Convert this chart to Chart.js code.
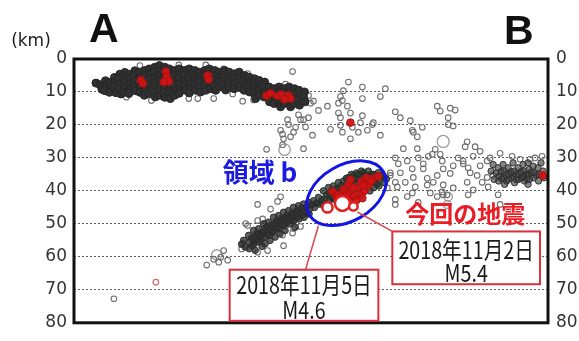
<!DOCTYPE html>
<html>
<head>
<meta charset="utf-8">
<script src="https://cdn.jsdelivr.net/npm/chart.js@4/dist/chart.umd.min.js"></script>
<style>
  html, body { margin: 0; padding: 0; background: #fff; overflow: hidden; }
  canvas { display: block; }
</style>
</head>
<body>
<canvas id="c" width="579" height="341"></canvas>
<script>
// Hypocentre cross-section A–B: horizontal distance (km) vs depth (km)

const depthTicks = [0, 10, 20, 30, 40, 50, 60, 70, 80];

// Shallow crustal swarm (very dense)
const shallowCluster = [
  [4.4,7.3],
  [5.2,7.8],[5.6,9.2],
  [6.3,6.6],[6.5,8.1],[6.2,9.6],
  [7.2,7.1],[7.4,8.7],[7.1,10.1],
  [8.1,5.6],[8.3,7.2],[8.0,8.6],[8.4,10.2],
  [9.2,4.6],[9.0,6.1],[9.3,7.6],[9.1,9.1],[9.4,10.6],
  [10.2,4.1],[10.4,5.6],[10.1,7.0],[10.3,8.6],[10.0,10.1],
  [11.1,4.6],[11.3,6.1],[11.2,7.6],[11.4,9.0],[11.0,10.5],
  [12.2,3.6],[12.0,5.1],[12.4,6.6],[12.1,8.1],[12.3,9.6],
  [13.1,4.1],[13.3,5.6],[13.0,7.1],[13.4,8.6],[13.2,10.1],
  [14.2,3.5],[14.0,5.0],[14.3,6.5],[14.1,8.0],[14.4,9.5],[14.1,11.0],
  [15.1,3.0],[15.3,4.5],[15.0,6.0],[15.2,7.5],[15.4,9.0],[15.1,10.5],
  [16.2,2.5],[16.0,4.0],[16.3,5.5],[16.1,7.0],[16.4,8.5],[16.0,10.0],[16.3,11.5],
  [17.1,2.0],[17.3,3.5],[17.0,5.0],[17.2,6.5],[17.4,8.0],[17.1,9.5],[17.3,11.0],
  [18.2,2.5],[18.0,4.0],[18.3,5.5],[18.1,7.0],[18.4,8.5],[18.0,10.0],[18.2,11.6],
  [19.1,3.0],[19.3,4.5],[19.0,6.0],[19.2,7.5],[19.4,9.0],[19.1,10.5],[19.3,12.0],
  [20.2,3.5],[20.0,5.0],[20.3,6.5],[20.1,8.0],[20.4,9.5],[20.2,11.0],
  [21.1,3.0],[21.3,4.5],[21.0,6.0],[21.2,7.5],[21.4,9.0],[21.1,10.4],
  [22.2,3.5],[22.0,5.0],[22.3,6.5],[22.1,8.0],[22.4,9.5],
  [23.1,3.0],[23.3,4.5],[23.0,6.0],[23.2,7.5],[23.4,9.0],[23.1,10.3],
  [24.2,3.5],[24.0,5.0],[24.3,6.5],[24.1,8.0],[24.4,9.5],
  [25.1,4.0],[25.3,5.5],[25.0,7.0],[25.2,8.5],[25.4,10.0],
  [26.2,3.5],[26.0,5.0],[26.3,6.5],[26.1,8.0],[26.4,9.5],
  [27.1,3.0],[27.3,4.5],[27.0,6.0],[27.2,7.5],[27.4,9.0],
  [28.2,3.5],[28.0,5.0],[28.3,6.5],[28.1,8.0],[28.4,9.5],
  [29.1,4.0],[29.3,5.5],[29.0,7.0],[29.2,8.5],
  [30.2,3.5],[30.0,5.0],[30.3,6.5],[30.1,8.0],[30.4,9.4],
  [31.1,4.0],[31.3,5.5],[31.0,7.0],[31.2,8.5],
  [32.2,4.5],[32.0,6.0],[32.3,7.5],[32.1,9.0],
  [33.1,4.0],[33.3,5.5],[33.0,7.0],[33.2,8.5],
  [34.2,5.0],[34.0,6.5],[34.3,8.0],[34.1,9.5],
  [35.1,5.5],[35.3,7.0],[35.0,8.5],[35.2,10.0],
  [36.2,6.0],[36.0,7.5],[36.3,9.0],[36.1,10.5],[36.4,12.0],
  [37.1,6.5],[37.3,8.0],[37.0,9.5],[37.2,11.0],
  [38.2,7.0],[38.0,8.5],[38.3,10.0],[38.1,11.5],
  [39.1,8.5],[39.3,10.0],[39.0,11.5],[39.2,13.0],
  [40.2,9.0],[40.0,10.5],[40.3,12.0],[40.1,13.5],
  [41.1,8.5],[41.3,10.0],[41.0,11.5],[41.2,13.0],[41.4,14.5],
  [42.2,9.0],[42.0,10.5],[42.3,12.0],[42.1,13.5],
  [43.1,8.5],[43.3,10.0],[43.0,11.5],[43.2,13.0],[43.4,14.5],
  [44.2,9.0],[44.0,10.5],[44.3,12.0],[44.1,13.5],
  [45.1,9.5],[45.3,11.0],[45.0,12.5],[45.2,14.0],
  [46.2,10.0],[46.0,11.5],[46.3,13.0]
];

// Dipping band of deeper events
const slabCluster = [
  [34.0,55.0],[34.3,57.0],[33.6,56.2],
  [35.0,53.5],[35.2,55.5],[35.1,57.5],[35.6,54.4],[35.7,56.6],
  [36.0,52.0],[36.2,54.0],[36.1,56.0],[36.3,58.0],[36.7,53.0],[36.6,55.1],
  [37.0,51.5],[37.2,53.5],[37.1,55.5],[37.6,52.6],[37.5,54.6],[37.7,56.8],
  [38.0,50.0],[38.2,52.0],[38.1,54.0],[38.3,56.0],[38.6,51.0],[38.7,53.1],
  [39.0,49.5],[39.2,51.5],[39.1,53.5],[39.3,55.0],[39.6,50.4],[39.7,52.6],
  [40.0,48.0],[40.2,50.0],[40.1,52.0],[40.3,54.0],[40.6,49.1],[40.7,51.2],
  [41.0,47.5],[41.2,49.5],[41.1,51.5],[41.3,53.0],[41.6,48.4],[41.7,50.4],
  [42.0,46.5],[42.2,48.5],[42.1,50.5],[42.3,52.0],[42.6,47.6],[42.7,49.5],
  [43.0,46.0],[43.2,48.0],[43.1,50.0],[43.6,46.9],[43.7,48.8],
  [44.0,45.0],[44.2,47.0],[44.1,49.0],[44.3,51.0],[44.6,46.1],[44.7,48.0],
  [45.0,44.5],[45.2,46.5],[45.1,48.5],[45.6,45.3],[45.7,47.4],
  [46.0,44.0],[46.2,46.0],[46.1,48.0],[46.6,44.8],[46.7,46.8],
  [47.0,43.5],[47.2,45.5],[47.1,47.0],[47.6,44.2],
  [48.0,43.0],[48.2,45.0],[48.6,43.8]
];

// Events in region b
const regionB = [
  [49.0,42.0],[49.2,44.0],[49.6,43.0],
  [50.0,40.0],[50.2,42.5],[50.1,44.5],[50.6,41.3],
  [51.0,39.0],[51.2,41.0],[51.1,43.0],[51.6,40.0],[51.7,42.0],
  [52.0,38.5],[52.2,40.5],[52.1,42.5],[52.6,39.4],[52.7,41.5],
  [53.0,37.5],[53.2,39.5],[53.1,41.5],[53.3,43.5],[53.6,38.4],[53.7,40.4],
  [54.0,37.0],[54.2,39.0],[54.1,41.0],[54.6,36.2],[54.7,38.2],
  [55.0,36.0],[55.2,38.0],[55.1,40.0],[55.3,42.0],[55.6,35.0],[55.7,37.1],
  [56.0,35.5],[56.2,37.5],[56.1,39.5],[56.6,34.6],[56.7,36.5],
  [57.0,35.0],[57.2,37.0],[57.1,39.0],[57.3,41.0],[57.6,34.0],[57.7,36.0],
  [58.0,34.5],[58.2,36.5],[58.1,38.5],[58.6,35.4],[58.7,37.5],
  [59.0,34.0],[59.2,36.0],[59.1,38.0],[59.3,40.0],[59.6,35.0],[59.7,37.0],
  [60.0,35.0],[60.2,37.0],[60.1,39.0],[60.6,36.0],[60.7,38.0],
  [61.0,34.5],[61.2,36.5],[61.1,38.5],[61.6,35.4],
  [62.0,35.5],[62.2,37.5],[62.6,36.4]
];

// Eastern cluster near 35 km depth
const eastCluster = [
  [84.0,32.0],[84.2,36.5],[83.6,34.0],[84.6,34.6],
  [85.0,33.0],[85.2,35.5],[85.1,37.0],[85.6,34.2],[85.7,36.3],
  [86.0,32.0],[86.2,34.0],[86.1,36.0],[86.3,38.0],[86.6,35.0],[86.7,37.0],
  [87.0,33.0],[87.2,35.0],[87.1,36.5],[87.6,34.2],[87.7,36.0],
  [88.0,31.5],[88.2,34.0],[88.1,35.5],[88.3,37.5],[88.6,35.0],[88.7,36.6],
  [89.0,33.0],[89.2,35.0],[89.1,36.5],[89.6,34.2],[89.7,36.0],
  [90.0,32.0],[90.2,34.0],[90.1,35.5],[90.3,37.0],[90.6,35.0],[90.7,36.4],
  [91.0,31.5],[91.2,33.5],[91.1,35.0],[91.3,36.5],[91.0,38.0],[91.6,34.4],
  [92.0,32.5],[92.2,34.5],[92.1,36.0],[92.6,35.2],
  [93.0,33.0],[93.2,35.0],[93.1,37.0],[93.6,31.5],
  [94.0,34.0],[94.2,36.0]
];

// Deep red (recent) events
const redEvents = [
  [13.4,6.4],[13.8,7.4],[18.4,3.8],[18.6,5.4],[19.0,6.8],[18.0,7.0],
  [26.8,5.0],[27.0,6.2],[38.6,11.1],[39.4,10.4],[40.8,11.2],[41.6,10.8],
  [43.0,11.1],[43.4,12.0],[42.2,12.2],[55.4,19.3],[94.0,35.3],
  [51.8,40.2],[52.6,41.6],[53.0,41.2],[54.0,39.6],[55.0,38.2],[55.6,40.4],[56.2,41.6],
  [57.0,39.0],[57.6,37.2],[58.2,40.0],[59.0,38.4],[60.0,36.2],[54.2,42.0],
  [56.6,42.8],[55.4,36.6],[58.6,36.0],[61.0,35.6],[54.8,41.2],[56.0,39.0],
  [57.4,41.2],[58.0,38.4],[53.6,43.0],[55.2,43.0],[57.8,42.2],[59.6,37.0]
];
const redHollow = [[16.4,67.7]];

// Scattered single events
const scattered = [
  [13.2,2.0],[21.0,1.8],[26.4,1.8],[30.0,3.0],[34.8,4.4],[23.0,12.0],[24.8,12.0],
  [28.0,12.0],[31.8,10.6],[33.8,12.8],[36.0,12.4],[10.5,11.6],[15.5,12.6],[43.8,3.8],
  [47.0,11.1],[47.4,13.4],[48.0,12.8],[49.0,15.6],[50.8,14.3],[47.0,17.8],[42.8,18.4],
  [43.0,19.9],[41.8,22.8],[46.4,20.6],[43.4,23.6],[41.8,26.0],[45.4,18.4],[44.0,22.2],
  [45.0,16.9],[47.8,23.1],[42.4,7.6],[41.4,21.6],[38.6,27.4],[46.0,27.2],[44.4,20.7],
  [46.0,18.4],[42.0,24.2],
  [55.0,7.0],[54.0,9.6],[53.4,11.4],[53.0,13.4],[53.0,16.4],[53.4,17.8],[54.8,14.3],
  [55.4,16.4],[55.8,20.7],[57.8,8.5],[57.8,12.0],[57.8,17.2],[57.4,19.3],[57.0,22.2],
  [60.0,19.3],[58.8,21.6],[61.4,11.4],[62.4,9.0],[64.4,16.0],[65.4,17.8],[68.0,22.2],
  [68.8,23.6],[69.8,20.7],[73.4,15.8],[75.0,17.8],[55.4,24.2],[53.8,22.2],[53.8,12.6],
  [53.4,20.1],[51.4,21.3],[59.8,19.9],[61.4,23.1],[67.4,18.7],[72.8,14.3],[75.4,14.9],
  [75.0,19.9],[76.0,20.3],[76.4,15.5],[67.8,21.6],
  [66.0,27.2],[64.4,30.0],[65.0,31.8],[65.4,34.5],[66.8,30.9],[67.8,33.3],[68.8,27.2],
  [69.0,30.0],[68.0,35.9],[68.4,38.8],[67.8,40.6],[70.0,31.8],[71.0,29.5],[71.8,28.9],
  [72.4,27.4],[73.4,28.9],[73.8,30.9],[74.0,33.3],[72.8,35.3],[72.0,37.4],[74.0,38.2],
  [75.4,34.7],[76.0,32.4],[77.0,30.0],[78.0,30.9],[79.0,33.0],[78.4,26.6],[80.0,29.5],
  [80.8,35.3],[81.8,37.4],[81.4,32.4],[82.8,30.9],[84.0,35.3],[70.8,38.2],[71.4,40.6],
  [64.8,38.8],[66.4,37.4],[63.4,34.5],[66.8,41.7],[64.4,42.6],[72.8,41.7],[74.8,41.2],
  [76.0,39.1],[78.8,37.4],[80.0,39.7],[78.0,31.8],[78.8,25.1],[80.4,26.6],[81.4,28.0],
  [83.4,30.0],[79.4,34.5],[82.8,35.9],[85.4,28.6],[87.8,29.5],[89.4,30.4],[91.4,30.4],
  [92.4,30.0],[93.8,29.5],[70.8,36.2],[70.0,33.3],[73.8,40.3],[85.0,41.2],[83.0,38.8],
  [62.8,39.1],[64.4,37.4],[64.4,44.1],[63.4,35.3],[69.0,43.5],[74.0,41.2],[85.4,44.1],
  [79.0,41.2],
  [36.8,44.1],[40.8,43.2],[41.4,41.8],[33.8,55.8],[36.8,58.6],[38.8,58.1],[41.8,53.4],
  [43.8,52.8],[45.4,50.8],[37.8,48.5],[39.4,45.5],[34.8,50.5],[36.8,49.0],[33.6,57.6],
  [42.0,56.6],[44.0,51.4],[30.0,58.1],[30.8,61.0],[26.6,62.5],[29.0,61.6],[28.0,60.7],
  [34.4,49.9],[29.4,60.1],[8.0,72.7]
];

// Larger single events (magnitude sets circle size)
const largeX     = [74.0, 42.2, 28.6, 75.0, 74.8];
const largeDepth = [25.0, 27.5, 59.4, 41.8, 44.1];
const largeMag   = [4.9, 4.8, 4.6, 4.3, 4.2];

// Main shocks: 2018-11-02 M5.4, 2018-11-05 M4.6, and a neighbouring event
const mainX     = [53.8, 50.8, 56.0];
const mainDepth = [43.8, 45.0, 44.7];
const mainMag   = [5.4, 4.6, 4.3];

const magRadius = m => 3 * (m - 2.9);
const toPts = arr => arr.map(([x, y]) => ({ x, y }));
const zipPts = (xs, ys) => xs.map((x, i) => ({ x, y: ys[i] }));

// Annotation anchors (data units: distance km, depth km)
const ann = {
  letterA:  { x: 3.0,  y: -8.5 },
  letterB:  { x: 86.2, y: -7.9 },
  unit:     { x: -12.6, y: -5.3 },
  regionLabel: { x: 29.8, y: 34.2 },
  regionEllipse: { x: 54.6, y: 40.7, rx: 8.6, ry: 5.6, rot: -30 },
  quakeLabel: { x: 78.4, y: 47.0 },
  box1: { x0: 63.8, x1: 93.4, y0: 52.3, y1: 68.3, l1: 57.8, l2: 64.8 },
  box2: { x0: 31.2, x1: 61.0, y0: 63.9, y1: 79.4, l1: 68.6, l2: 76.2 },
  lead1: { x0: 56.8, y0: 46.4, x1: 63.8, y1: 52.3 },
  lead2: { x0: 49.0, y0: 50.5, x1: 46.4, y1: 63.9 }
};

const overlay = {
  id: 'overlay',
  afterDatasetsDraw(chart) {
    const { ctx, chartArea: a, scales } = chart;
    const X = v => scales.x.getPixelForValue(v);
    const Y = v => scales.y.getPixelForValue(v);
    const pxPerKm = Math.abs(X(1) - X(0));
    ctx.save();

    // plot frame
    ctx.strokeStyle = '#111';
    ctx.lineWidth = 3;
    ctx.strokeRect(a.left, a.top, a.right - a.left, a.bottom - a.top);

    // section end letters and unit
    ctx.fillStyle = '#111';
    ctx.textBaseline = 'middle';
    ctx.textAlign = 'left';
    ctx.font = 'bold 41px "Liberation Sans", Arial, sans-serif';
    ctx.fillText('A', X(ann.letterA.x), Y(ann.letterA.y));
    ctx.fillText('B', X(ann.letterB.x), Y(ann.letterB.y));
    ctx.fillStyle = '#222';
    ctx.font = '17px "DejaVu Sans", sans-serif';
    ctx.fillText('(km)', X(ann.unit.x), Y(ann.unit.y));

    // region b outline
    const e = ann.regionEllipse;
    ctx.strokeStyle = '#1414e6';
    ctx.lineWidth = 3;
    ctx.beginPath();
    ctx.ellipse(X(e.x), Y(e.y), e.rx * pxPerKm, e.ry * pxPerKm, e.rot * Math.PI / 180, 0, Math.PI * 2);
    ctx.stroke();

    ctx.fillStyle = '#1a1ae0';
    ctx.font = 'bold 26px "Noto Sans CJK JP", sans-serif';
    ctx.fillText('領域 b', X(ann.regionLabel.x), Y(ann.regionLabel.y));

    ctx.fillStyle = '#ea1c24';
    ctx.textAlign = 'center';
    ctx.font = 'bold 24px "Noto Sans CJK JP", sans-serif';
    ctx.fillText('今回の地震', X(ann.quakeLabel.x), Y(ann.quakeLabel.y));

    // leader lines
    ctx.strokeStyle = '#d8474f';
    ctx.lineWidth = 1.5;
    [ann.lead1, ann.lead2].forEach(l => {
      ctx.beginPath();
      ctx.moveTo(X(l.x0), Y(l.y0));
      ctx.lineTo(X(l.x1), Y(l.y1));
      ctx.stroke();
    });

    // date / magnitude boxes
    const condensed = (text, cx, cy, size) => {
      ctx.save();
      ctx.translate(cx, cy);
      ctx.scale(0.82, 1);
      ctx.font = size + 'px "Noto Sans CJK JP", sans-serif';
      ctx.fillText(text, 0, 0);
      ctx.restore();
    };
    const box = (b, line1, line2) => {
      const x0 = X(b.x0), x1 = X(b.x1), y0 = Y(b.y0), y1 = Y(b.y1);
      ctx.fillStyle = '#fff';
      ctx.fillRect(x0, y0, x1 - x0, y1 - y0);
      ctx.strokeStyle = '#d8303c';
      ctx.lineWidth = 2;
      ctx.strokeRect(x0, y0, x1 - x0, y1 - y0);
      ctx.fillStyle = '#1a1a1a';
      ctx.textAlign = 'center';
      const cx = (x0 + x1) / 2;
      condensed(line1, cx, Y(b.l1), 24);
      condensed(line2, cx, Y(b.l2), 24);
    };
    box(ann.box1, '2018年11月2日', 'M5.4');
    box(ann.box2, '2018年11月5日', 'M4.6');

    ctx.restore();
  }
};

const tickFont = { family: '"DejaVu Sans", sans-serif', size: 17 };

new Chart(document.getElementById('c'), {
  type: 'scatter',
  data: {
    datasets: [
      { data: zipPts(mainX, mainDepth), pointRadius: mainMag.map(magRadius),
        backgroundColor: '#ffffff', borderColor: '#e41e1e', borderWidth: 2.5, order: 0 },
      { data: toPts(redEvents), pointRadius: 3.8,
        backgroundColor: 'rgba(206,20,20,0.95)', borderColor: '#b01010', borderWidth: 1, order: 1 },
      { data: toPts(redHollow), pointRadius: 2.8,
        backgroundColor: 'rgba(0,0,0,0)', borderColor: '#d46a6a', borderWidth: 1.2, order: 1 },
      { data: toPts(regionB), pointRadius: 3.3,
        backgroundColor: 'rgba(36,46,40,0.75)', borderColor: '#27332b', borderWidth: 1, order: 2 },
      { data: toPts(shallowCluster), pointRadius: 4,
        backgroundColor: '#303030', borderColor: '#262626', borderWidth: 1, order: 3 },
      { data: toPts(slabCluster), pointRadius: 3.3,
        backgroundColor: 'rgba(40,40,40,0.75)', borderColor: '#2e2e2e', borderWidth: 1, order: 3 },
      { data: toPts(eastCluster), pointRadius: 3.2,
        backgroundColor: 'rgba(50,50,50,0.6)', borderColor: '#333', borderWidth: 1, order: 3 },
      { data: toPts(scattered), pointRadius: 2.8,
        backgroundColor: 'rgba(0,0,0,0)', borderColor: '#6e6e6e', borderWidth: 1.1, order: 4 },
      { data: zipPts(largeX, largeDepth), pointRadius: largeMag.map(magRadius),
        backgroundColor: 'rgba(0,0,0,0)', borderColor: '#9a9a9a', borderWidth: 1.3, order: 4 }
    ]
  },
  options: {
    responsive: false,
    devicePixelRatio: 1,
    animation: false,
    events: [],
    layout: { autoPadding: false, padding: { top: 59, bottom: 8, left: 0, right: 0 } },
    plugins: { legend: { display: false }, tooltip: { enabled: false } },
    scales: {
      x: { type: 'linear', min: 0, max: 95, display: false },
      y: {
        type: 'linear', position: 'left', reverse: true, min: 0, max: 80,
        afterBuildTicks: s => { s.ticks = depthTicks.map(v => ({ value: v })); },
        afterFit: s => { s.width = 74; },
        ticks: { color: '#333', font: tickFont, padding: 7 },
        grid: { color: '#5e5e5e', lineWidth: 1, drawTicks: false },
        border: { display: false, dash: [2, 2] }
      },
      y2: {
        type: 'linear', position: 'right', reverse: true, min: 0, max: 80,
        afterBuildTicks: s => { s.ticks = depthTicks.map(v => ({ value: v })); },
        afterFit: s => { s.width = 31; },
        ticks: { color: '#333', font: tickFont, padding: 8 },
        grid: { display: false, drawTicks: false },
        border: { display: false }
      }
    }
  },
  plugins: [overlay]
});
</script>
</body>
</html>
